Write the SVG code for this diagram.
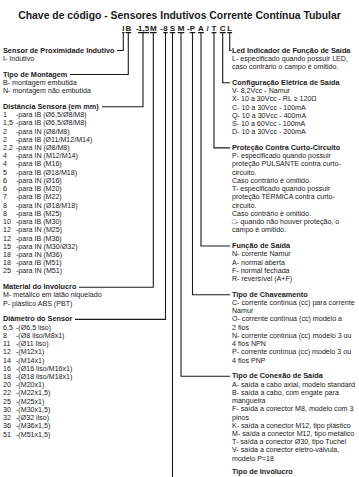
<svg xmlns="http://www.w3.org/2000/svg" width="359" height="477" viewBox="0 0 359 477">
<style>
text{font-family:"Liberation Sans",Arial,sans-serif;fill:#1a1a1a}
.t{font-size:7.1px}
.b{font-size:7.3px;font-weight:bold}
.h{font-size:10.4px;font-weight:bold}
.c{font-size:8px;font-weight:bold;text-anchor:middle}
.ln{fill:none;stroke:#1a1a1a;stroke-width:1.1}
</style>
<rect width="359" height="477" fill="#fff"/>
<g id="title"><text class="h" x="179.5" y="19" text-anchor="middle">Chave de código - Sensores Indutivos Corrente Contínua Tubular</text></g>
<g id="code">
<text class="c" y="31"><tspan x="123.3">I</tspan><tspan x="128.3">B</tspan><tspan x="137.3">-</tspan><tspan x="143.6">1,5</tspan><tspan x="153.3">M</tspan><tspan x="161.5">-</tspan><tspan x="165.5">8</tspan><tspan x="172.5">S</tspan><tspan x="181">M</tspan><tspan x="188.3">-</tspan><tspan x="192.5">P</tspan><tspan x="201">A</tspan><tspan x="207.5">/</tspan><tspan x="214">T</tspan><tspan x="222.7">C</tspan><tspan x="229.7">L</tspan></text>
<path class="ln" d="M122.2,32.6H124.4M125.4,32.6H131.2M138.1,32.6H149.1M150,32.6H156.6M163.3,32.6H167.7M169.8,32.6H175.2M177.7,32.6H184.3M189.8,32.6H195.2M198.1,32.6H203.9M211.6,32.6H216.4M219.8,32.6H225.6M227.3,32.6H232.1"/>
</g>
<g id="connectors">
<path class="ln" d="M123.3,32.6V50.5H117"/>
<path class="ln" d="M128.3,32.6V74.5H70"/>
<path class="ln" d="M143,32.6V106.8H102"/>
<path class="ln" d="M153.3,32.6V287.2H79"/>
<path class="ln" d="M165.5,32.6V319.4H75"/>
<path class="ln" d="M172.5,32.6V477"/>
<path class="ln" d="M181,32.6V376.3H230"/>
<path class="ln" d="M192.5,32.6V294.7H230"/>
<path class="ln" d="M201,32.6V246H230"/>
<path class="ln" d="M214,32.6V147.9H230"/>
<path class="ln" d="M222.7,32.6V82.8H230"/>
<path class="ln" d="M229.7,32.6V50.5H231.5"/>
</g>
<g id="sensor">
<text class="b" x="3" y="52.5">Sensor de Proximidade Indutivo</text>
<text class="t" x="3" y="60.7">I- Indutivo</text>
</g>
<g id="montagem">
<text class="b" x="3" y="76.5">Tipo de Montagem</text>
<text class="t" x="3" y="84.7">B- montagem embutida</text>
<text class="t" x="3" y="93">N- montagem não embutida</text>
</g>
<g id="distancia">
<text class="b" x="3" y="108.8">Distância Sensora (em mm)</text>
<text class="t" y="117"><tspan x="3">1</tspan><tspan x="16">-para IB (Ø6,5/Ø8/M8)</tspan></text>
<text class="t" y="125.2"><tspan x="3">1,5</tspan><tspan x="16">-para IB (Ø6,5/Ø8/M8)</tspan></text>
<text class="t" y="133.5"><tspan x="3">2</tspan><tspan x="16">-para IN (Ø8/M8)</tspan></text>
<text class="t" y="141.7"><tspan x="3">2</tspan><tspan x="16">-para IB (Ø11/M12/M14)</tspan></text>
<text class="t" y="149.9"><tspan x="3">2,2</tspan><tspan x="16">-para IN (Ø8/M8)</tspan></text>
<text class="t" y="158.2"><tspan x="3">4</tspan><tspan x="16">-para IN (M12/M14)</tspan></text>
<text class="t" y="166.4"><tspan x="3">4</tspan><tspan x="16">-para IB (M16)</tspan></text>
<text class="t" y="174.6"><tspan x="3">5</tspan><tspan x="16">-para IB (Ø18/M18)</tspan></text>
<text class="t" y="182.8"><tspan x="3">6</tspan><tspan x="16">-para IN (Ø16)</tspan></text>
<text class="t" y="191.1"><tspan x="3">6</tspan><tspan x="16">-para IB (M20)</tspan></text>
<text class="t" y="199.3"><tspan x="3">7</tspan><tspan x="16">-para IB (M22)</tspan></text>
<text class="t" y="207.5"><tspan x="3">8</tspan><tspan x="16">-para IN (Ø18/M18)</tspan></text>
<text class="t" y="215.8"><tspan x="3">8</tspan><tspan x="16">-para IB (M25)</tspan></text>
<text class="t" y="224"><tspan x="3">10</tspan><tspan x="16">-para IB (M30)</tspan></text>
<text class="t" y="232.2"><tspan x="3">12</tspan><tspan x="16">-para IN (M25)</tspan></text>
<text class="t" y="240.5"><tspan x="3">12</tspan><tspan x="16">-para IB (M36)</tspan></text>
<text class="t" y="248.7"><tspan x="3">15</tspan><tspan x="16">-para IN (M30/Ø32)</tspan></text>
<text class="t" y="256.9"><tspan x="3">18</tspan><tspan x="16">-para IN (M36)</tspan></text>
<text class="t" y="265.1"><tspan x="3">18</tspan><tspan x="16">-para IB (M51)</tspan></text>
<text class="t" y="273.4"><tspan x="3">25</tspan><tspan x="16">-para IN (M51)</tspan></text>
</g>
<g id="material">
<text class="b" x="3" y="289.2">Material do Invólucro</text>
<text class="t" x="3" y="297.4">M- metálico em latão niquelado</text>
<text class="t" x="3" y="305.6">P- plástico ABS (PBT)</text>
</g>
<g id="diametro">
<text class="b" x="3" y="321.4">Diâmetro do Sensor</text>
<text class="t" y="329.6"><tspan x="3">6,5</tspan><tspan x="16">-(Ø6,5 liso)</tspan></text>
<text class="t" y="337.8"><tspan x="3">8</tspan><tspan x="16">-(Ø8 liso/M8x1)</tspan></text>
<text class="t" y="346.1"><tspan x="3">11</tspan><tspan x="16">-(Ø11 liso)</tspan></text>
<text class="t" y="354.3"><tspan x="3">12</tspan><tspan x="16">-(M12x1)</tspan></text>
<text class="t" y="362.5"><tspan x="3">14</tspan><tspan x="16">-(M14x1)</tspan></text>
<text class="t" y="370.8"><tspan x="3">16</tspan><tspan x="16">-(Ø16 liso/M16x1)</tspan></text>
<text class="t" y="379"><tspan x="3">18</tspan><tspan x="16">-(Ø18 liso/M18x1)</tspan></text>
<text class="t" y="387.2"><tspan x="3">20</tspan><tspan x="16">-(M20x1)</tspan></text>
<text class="t" y="395.4"><tspan x="3">22</tspan><tspan x="16">-(M22x1,5)</tspan></text>
<text class="t" y="403.7"><tspan x="3">25</tspan><tspan x="16">-(M25x1)</tspan></text>
<text class="t" y="411.9"><tspan x="3">30</tspan><tspan x="16">-(M30x1,5)</tspan></text>
<text class="t" y="420.1"><tspan x="3">32</tspan><tspan x="16">-(Ø32 liso)</tspan></text>
<text class="t" y="428.4"><tspan x="3">36</tspan><tspan x="16">-(M36x1,5)</tspan></text>
<text class="t" y="436.6"><tspan x="3">51</tspan><tspan x="16">-(M51x1,5)</tspan></text>
</g>
<g id="led">
<text class="b" x="232" y="52.5">Led Indicador de Função de Saída</text>
<text class="t" x="232" y="60.7">L- especificado quando possuir LED,</text>
<text class="t" x="232" y="69">caso contrário o campo é omitido.</text>
</g>
<g id="config">
<text class="b" x="232" y="84.8">Configuração Elétrica de Saída</text>
<text class="t" x="232" y="93">V- 8,2Vcc - Namur</text>
<text class="t" x="232" y="101.2">X- 10 a 30Vcc - RL ≥ 120Ω</text>
<text class="t" x="232" y="109.5">C- 10 a 30Vcc - 100mA</text>
<text class="t" x="232" y="117.7">Q- 10 a 30Vcc - 400mA</text>
<text class="t" x="232" y="125.9">S- 10 a 60Vcc - 100mA</text>
<text class="t" x="232" y="134.1">D- 10 a 30Vcc - 200mA</text>
</g>
<g id="protecao">
<text class="b" x="232" y="149.9">Proteção Contra Curto-Circuito</text>
<text class="t" x="232" y="158.2">P- especificado quando possuir</text>
<text class="t" x="232" y="166.4">proteção PULSANTE contra curto-</text>
<text class="t" x="232" y="174.6">circuito.</text>
<text class="t" x="232" y="182.8">Caso contrário é omitido.</text>
<text class="t" x="232" y="191.1">T- especificado quando possuir</text>
<text class="t" x="232" y="199.3">proteção TÉRMICA contra curto-</text>
<text class="t" x="232" y="207.5">circuito.</text>
<text class="t" x="232" y="215.8">Caso contrário é omitido.</text>
<text class="t" x="232" y="224">□- quando não houver proteção, o</text>
<text class="t" x="232" y="232.2">campo é omitido.</text>
</g>
<g id="funcao">
<text class="b" x="232" y="248">Função de Saída</text>
<text class="t" x="232" y="256.2">N- corrente Namur</text>
<text class="t" x="232" y="264.5">A- normal aberta</text>
<text class="t" x="232" y="272.7">F- normal fechada</text>
<text class="t" x="232" y="280.9">R- reversível (A+F)</text>
</g>
<g id="chaveamento">
<text class="b" x="232" y="296.7">Tipo de Chaveamento</text>
<text class="t" x="232" y="304.9">C- corrente contínua (cc) para corrente</text>
<text class="t" x="232" y="313.2">Namur</text>
<text class="t" x="232" y="321.4">O- corrente contínua (cc) modelo a</text>
<text class="t" x="232" y="329.6">2 fios</text>
<text class="t" x="232" y="337.8">N- corrente contínua (cc) modelo 3 ou</text>
<text class="t" x="232" y="346.1">4 fios NPN</text>
<text class="t" x="232" y="354.3">P- corrente contínua (cc) modelo 3 ou</text>
<text class="t" x="232" y="362.5">4 fios PNP</text>
</g>
<g id="conexao">
<text class="b" x="232" y="378.3">Tipo de Conexão de Saída</text>
<text class="t" x="232" y="386.5">A- saída a cabo axial, modelo standard</text>
<text class="t" x="232" y="394.8">B- saída a cabo, com engate para</text>
<text class="t" x="232" y="403">mangueira</text>
<text class="t" x="232" y="411.2">F- saída a conector M8, modelo com 3</text>
<text class="t" x="232" y="419.5">pinos</text>
<text class="t" x="232" y="427.7">K- saída a conector M12, tipo plástico</text>
<text class="t" x="232" y="435.9">M- saída a conector M12, tipo metálico</text>
<text class="t" x="232" y="444.1">T- saída a conector Ø30, tipo Tuchel</text>
<text class="t" x="232" y="452.4">V- saída a conector eletro-válvula,</text>
<text class="t" x="232" y="460.6">modelo P=18</text>
</g>
<g id="involucro">
<text class="b" x="232" y="474">Tipo de Invólucro</text>
</g>
</svg>
